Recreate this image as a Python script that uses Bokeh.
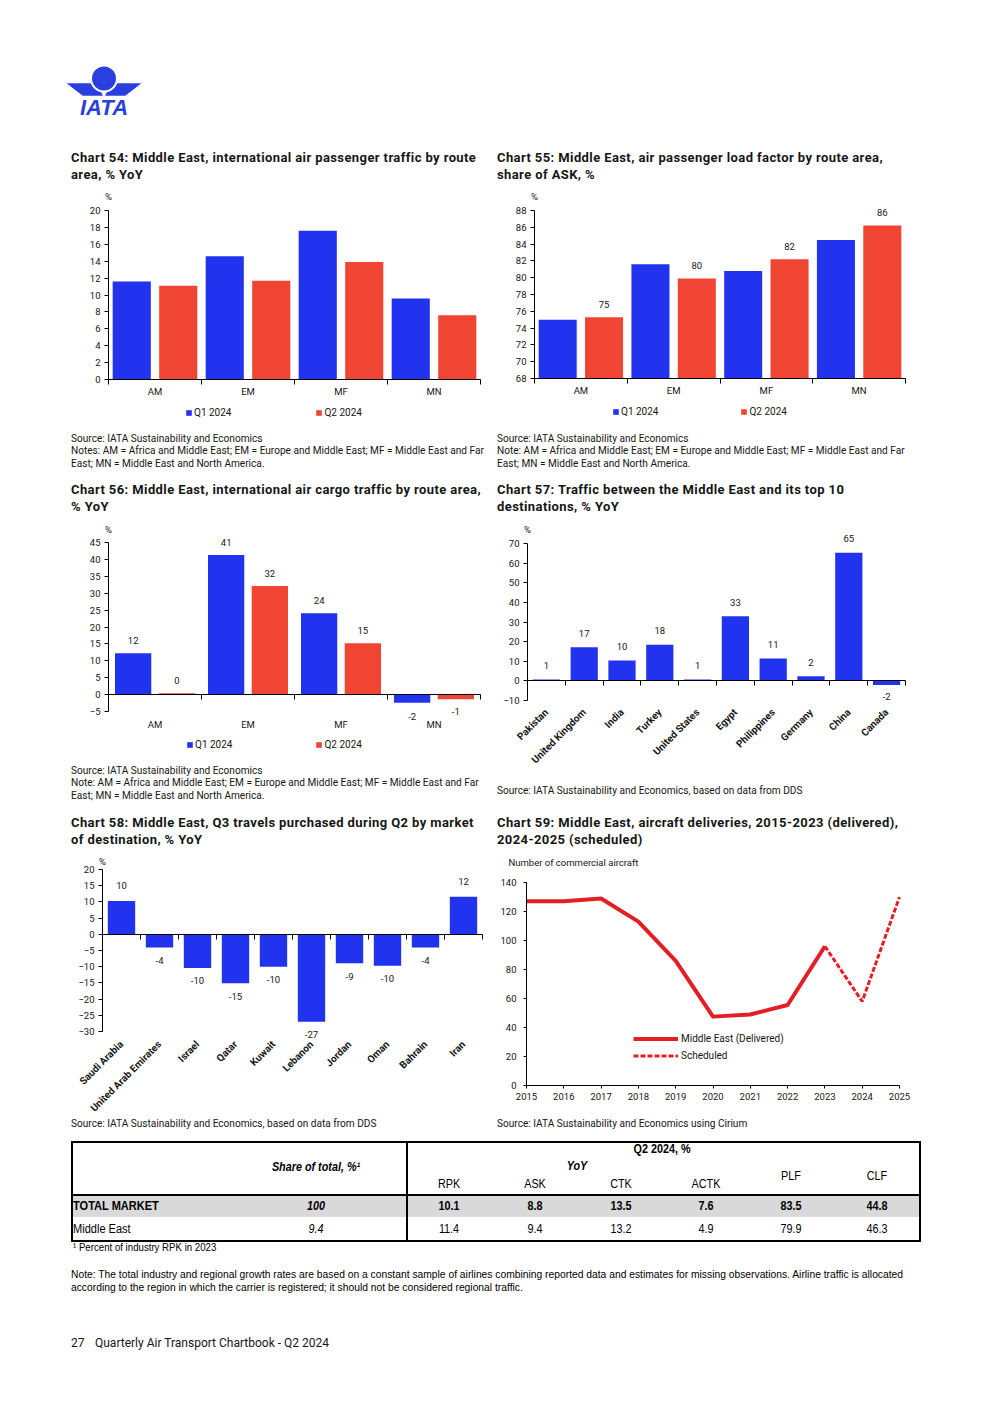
import numpy as np
from bokeh.plotting import figure
from bokeh.models import (ColumnDataSource, Range1d, FixedTicker, LinearAxis, Legend, LegendItem,
                          LabelSet, Label, Div, Spacer)
from bokeh.layouts import column, row
from bokeh.embed import file_html
from bokeh.resources import INLINE
from bokeh.core.properties import value

# ---------------- data ----------------
route_areas = ["AM", "EM", "MF", "MN"]
pax_q1 = [11.6, 14.6, 17.6, 9.6]
pax_q2 = [11.1, 11.7, 13.9, 7.6]
plf_q1 = [75.0, 81.6, 80.8, 84.5]
plf_q2 = [75.3, 79.9, 82.2, 86.2]
cargo_q1 = [12.2, 41.3, 24.1, -2.4]
cargo_q2 = [0.4, 32.1, 15.2, -1.4]
dest_names = ["Pakistan", "United Kingdom", "India", "Turkey", "United States", "Egypt",
              "Philippines", "Germany", "China", "Canada"]
dest_yoy = [0.7, 17.1, 10.4, 18.4, 0.7, 32.9, 11.4, 2.4, 65.3, -2.1]
market_names = ["Saudi Arabia", "United Arab Emirates", "Israel", "Qatar", "Kuwait", "Lebanon",
                "Jordan", "Oman", "Bahrain", "Iran"]
market_yoy = [10.3, -4.1, -10.4, -15.1, -10.0, -27.0, -8.9, -9.7, -4.1, 11.6]
deliv_years = [2015, 2016, 2017, 2018, 2019, 2020, 2021, 2022, 2023]
delivered = [127, 127, 129, 113, 86, 47.5, 49, 55.5, 96]
sched_years = [2023, 2024, 2025]
scheduled = [96, 58, 130]
period_labels = ["Q1 2024", "Q2 2024"]

table_cols = ["RPK", "ASK", "CTK", "ACTK", "PLF", "CLF"]
table_total = ["10.1", "8.8", "13.5", "7.6", "83.5", "44.8"]
table_me = ["11.4", "9.4", "13.2", "4.9", "79.9", "46.3"]
share_total = "100"
share_me = "9.4"

# ---------------- style ----------------
BLUE = "#2233F0"
RED = "#F04533"
LINE_RED = "#E31E24"
LOGO_BLUE = "#2A3FE0"
FONT = "Roboto"
TXT = "#161616"
TICK_SIZE = "9.5px"


def xr_from(v0, v1, p0, p1, f0, f1):
    """range so that value v0 sits at pixel p0 and v1 at p1 in a frame spanning f0..f1"""
    ppu = (p1 - p0) / (v1 - v0)
    return Range1d(v0 - (p0 - f0) / ppu, v1 + (f1 - p1) / ppu)


def yr_from(v0, v1, pb, pt, fb, ft):
    ppu = (pb - pt) / (v1 - v0)
    return Range1d(v0 - (fb - pb) / ppu, v1 + (pt - ft) / ppu)


def make_fig(w, h, xr, yr):
    p = figure(width=w, height=h, x_range=xr, y_range=yr, title=None,
               x_axis_type=None, y_axis_type=None, min_border=0,
               output_backend="svg", toolbar_location=None)
    p.outline_line_color = None
    return p


def add_yaxis(p, x_at, ticks, standoff=4, tick_out=4):
    ax = LinearAxis(fixed_location=x_at, bounds=(ticks[0], ticks[-1]), ticker=FixedTicker(ticks=ticks),
                    major_tick_out=tick_out, major_tick_in=0, minor_tick_out=0, minor_tick_in=0,
                    axis_line_color="black", major_tick_line_color="black",
                    major_label_text_font=FONT, major_label_text_font_size=TICK_SIZE,
                    major_label_text_color=TXT, major_label_standoff=standoff)
    p.add_layout(ax, "left")


def add_cat_axes(p, names, y_base, rotate=False, zero_axis=False, standoff=1, size=TICK_SIZE, bold=False):
    n = len(names)
    centers = list(range(n))
    bounds = [i - 0.5 for i in range(n + 1)]
    lab = LinearAxis(fixed_location=y_base, bounds=(-0.5, n - 0.5),
                     ticker=FixedTicker(ticks=centers, minor_ticks=bounds),
                     major_label_overrides={i: nm for i, nm in enumerate(names)},
                     major_tick_out=0, major_tick_in=0, minor_tick_in=0, minor_tick_out=5,
                     axis_line_color="black", minor_tick_line_color="black",
                     major_label_text_font=FONT, major_label_text_font_size=size,
                     major_label_text_color=TXT, major_label_standoff=standoff)
    if bold:
        lab.major_label_text_font_style = "bold"
    if rotate:
        lab.major_label_orientation = np.pi / 4
    if zero_axis:
        lab.axis_line_color = None
        lab.minor_tick_line_color = None
        z = LinearAxis(fixed_location=0, bounds=(-0.5, n - 0.5), ticker=FixedTicker(ticks=bounds),
                       major_tick_out=5, major_tick_in=0, minor_tick_out=0, minor_tick_in=0,
                       axis_line_color="black", major_tick_line_color="black",
                       major_label_text_font_size="0px", major_label_text_color=None)
        p.add_layout(z, "below")
    p.add_layout(lab, "below")


def value_labels(p, xs, vals, up, down, size="9.5px"):
    pos = [(x, v) for x, v in zip(xs, vals) if v >= 0]
    neg = [(x, v) for x, v in zip(xs, vals) if v < 0]
    for group, off in ((pos, up), (neg, -down)):
        if not group:
            continue
        src = ColumnDataSource(dict(x=[g[0] for g in group], y=[g[1] for g in group],
                                    t=[str(int(round(g[1]))) for g in group]))
        p.add_layout(LabelSet(x="x", y="y", text="t", source=src, y_offset=off,
                              text_align="center", text_baseline="middle",
                              text_font=value(FONT), text_font_size=size, text_color=TXT))


def top_label(p, x, y, off, text="%", align="center", xoff=0):
    p.add_layout(Label(x=x, y=y, text=text, x_offset=xoff, y_offset=off, text_align=align,
                       text_baseline="middle", text_font=FONT, text_font_size="9.5px",
                       text_color=TXT))


def bar_legend(p, r1, r2, x, y, spacing):
    lg = Legend(items=[LegendItem(label=period_labels[0], renderers=[r1]),
                       LegendItem(label=period_labels[1], renderers=[r2])],
                orientation="horizontal", location=(x, y), glyph_width=7, glyph_height=7,
                label_standoff=2, spacing=spacing, padding=0, margin=0,
                border_line_color=None, background_fill_alpha=0,
                label_text_font=FONT, label_text_font_size="10px", label_text_color=TXT,
                label_height=12)
    p.add_layout(lg)


def grouped(q1, q2, fx, fy, fw, fh, cat_px, ypx, y0, y1, ticks, off=0.25, bw=0.41, zero=False,
            standoff=1):
    n = len(route_areas)
    xr = xr_from(-0.5, n - 0.5, cat_px[0], cat_px[1], fx, fx + fw)
    yr = yr_from(y0, y1, ypx[0], ypx[1], fy + fh, fy)
    p = make_fig(fw, fh, xr, yr)
    base = y0 if not zero else 0
    xs1 = list(np.arange(n) - off)
    xs2 = list(np.arange(n) + off)
    r1 = p.vbar(x=xs1, top=q1, bottom=base, width=bw, fill_color=BLUE, line_color=None)
    r2 = p.vbar(x=xs2, top=q2, bottom=base, width=bw, fill_color=RED, line_color=None)
    add_yaxis(p, -0.5, ticks)
    add_cat_axes(p, route_areas, y0, zero_axis=zero, standoff=standoff)
    return p, r1, r2, xs1, xs2


# ---------------- chart 54 ----------------
p54, r1, r2, _, _ = grouped(pax_q1, pax_q2, 66, 188, 426, 242, (108, 480), (379, 210),
                            0, 20, list(range(0, 21, 2)))
bar_legend(p54, r1, r2, 119, 12, 84)
top_label(p54, -0.5, 20, 14)

# ---------------- chart 55 ----------------
p55, r1, r2, xs1, xs2 = grouped(plf_q1, plf_q2, 492, 188, 426, 242, (534, 905), (378, 210),
                                68, 88, list(range(68, 89, 2)))
bar_legend(p55, r1, r2, 120, 13, 82)
value_labels(p55, xs2, plf_q2, 13, 13)
top_label(p55, -0.5, 88, 14)

# ---------------- chart 56 ----------------
p56, r1, r2, xs1, xs2 = grouped(cargo_q1, cargo_q2, 66, 522, 426, 240, (108, 480), (711, 542),
                                -5, 45, list(range(-5, 46, 5)), off=0.235, bw=0.39, zero=True,
                                standoff=2)
bar_legend(p56, r1, r2, 120, 12, 83)
value_labels(p56, xs1, cargo_q1, 13, 14)
value_labels(p56, xs2, cargo_q2, 13, 12)
top_label(p56, -0.5, 45, 13)

# ---------------- chart 57 ----------------
n57 = len(dest_names)
p57 = make_fig(426, 260, xr_from(-0.5, n57 - 0.5, 527, 905, 492, 918),
               yr_from(-10, 70, 700, 543, 782, 522))
p57.vbar(x=list(range(n57)), top=dest_yoy, bottom=0, width=0.72, fill_color=BLUE, line_color=None)
add_yaxis(p57, -0.5, list(range(-10, 71, 10)))
add_cat_axes(p57, dest_names, -10, rotate=True, zero_axis=True, standoff=5, size="10px", bold=True)
value_labels(p57, list(range(n57)), dest_yoy, 14, 12)
top_label(p57, -0.5, 70, 14)

# ---------------- chart 58 ----------------
n58 = len(market_names)
p58 = make_fig(426, 261, xr_from(-0.5, n58 - 0.5, 102, 482, 66, 492),
               yr_from(-30, 20, 1031, 869, 1115, 854))
p58.vbar(x=list(range(n58)), top=market_yoy, bottom=0, width=0.72, fill_color=BLUE, line_color=None)
add_yaxis(p58, -0.5, list(range(-30, 21, 5)))
add_cat_axes(p58, market_names, -30, rotate=True, zero_axis=True, standoff=6, size="10px", bold=True)
value_labels(p58, list(range(n58)), market_yoy, 15, 13)
top_label(p58, -0.5, 20, 8)

# ---------------- chart 59 ----------------
p59 = make_fig(426, 261, xr_from(2015, 2025, 526, 899, 492, 918), yr_from(0, 140, 1085, 882, 1115, 854))
r_del = p59.line(deliv_years, delivered, line_width=4, line_color=LINE_RED, line_join="round")
r_sch = p59.line(sched_years, scheduled, line_width=3, line_color=LINE_RED, line_dash="5 2")
add_yaxis(p59, 2015, list(range(0, 141, 20)), standoff=7, tick_out=3)
xa = LinearAxis(fixed_location=0, bounds=(2015, 2025), ticker=FixedTicker(ticks=list(range(2015, 2026))),
                major_tick_out=3, major_tick_in=0, minor_tick_out=0, minor_tick_in=0,
                axis_line_color="black", major_tick_line_color="black",
                major_label_text_font=FONT, major_label_text_font_size=TICK_SIZE,
                major_label_text_color=TXT, major_label_standoff=4)
p59.add_layout(xa, "below")
lg59 = Legend(items=[LegendItem(label="Middle East (Delivered)", renderers=[r_del]),
                     LegendItem(label="Scheduled", renderers=[r_sch])],
              orientation="vertical", location=(141, 51.5), glyph_width=45, glyph_height=17,
              label_height=17, label_standoff=3, spacing=0, padding=0, margin=0,
              border_line_color=None, background_fill_alpha=0,
              label_text_font=FONT, label_text_font_size="10px", label_text_color=TXT)
p59.add_layout(lg59)
top_label(p59, 2015, 140, 20, text="Number of commercial aircraft", align="left", xoff=-18)

# ---------------- logo ----------------
logo = figure(width=100, height=75, x_range=Range1d(55, 155), y_range=Range1d(130, 55),
              x_axis_type=None, y_axis_type=None, min_border=0, toolbar_location=None,
              output_backend="svg", title=None)
logo.outline_line_color = None
logo.patches([[64, 97, 103.5, 82], [143, 110, 103.5, 125]],
             [[82, 82, 96, 96], [82, 82, 96, 96]],
             fill_color=LOGO_BLUE, line_color="white", line_width=1.5)
logo.circle(x=[103.5], y=[78], radius=13, fill_color=LOGO_BLUE, line_color="white", line_width=2)
logo.text(x=[103.5], y=[106.5], text=["IATA"], text_font=value("Liberation Sans"),
          text_font_style="bold italic", text_font_size="22px", text_align="center",
          text_baseline="middle", text_color=LOGO_BLUE)


# ---------------- text helpers ----------------
def text_div(html, w, h, size, bold=False, lh=17.0, pt=0.0, pl=5, ls=0.0):
    style = (f"font-family:{FONT},sans-serif;font-size:{size}px;line-height:{lh}px;"
             f"padding-top:{pt}px;padding-left:{pl}px;white-space:nowrap;color:{TXT};"
             f"letter-spacing:{ls}px;font-weight:{'bold' if bold else 'normal'};")
    return Div(text=f'<div style="{style}">{html}</div>', width=w, height=h, margin=0)


def title_div(html, pt):
    return text_div(html, 426, 42, 13, bold=True, lh=17, pt=pt, ls=0.4)


def note_div(html, h):
    return text_div(html, 426, h, 10.1, lh=12.5, pt=2.75)


src_basic = "Source: IATA Sustainability and Economics"
abbr2 = "East; MN = Middle East and North America."
abbr1 = "AM = Africa and Middle East; EM = Europe and Middle East; MF = Middle East and Far"

t54 = title_div("Chart 54: Middle East, international air passenger traffic by route<br>area, % YoY", 2.5)
t55 = title_div("Chart 55: Middle East, air passenger load factor by route area,<br>share of ASK, %", 2.5)
t56 = title_div("Chart 56: Middle East, international air cargo traffic by route area,<br>% YoY", 0.5)
t57 = title_div("Chart 57: Traffic between the Middle East and its top 10<br>destinations, % YoY", 0.5)
t58 = title_div("Chart 58: Middle East, Q3 travels purchased during Q2 by market<br>of destination, % YoY", 1.5)
t59 = title_div("Chart 59: Middle East, aircraft deliveries, 2015-2023 (delivered),<br>2024-2025 (scheduled)", 1.5)

n54 = note_div(f"{src_basic}<br>Notes: {abbr1}<br>{abbr2}", 50)
n55 = note_div(f"{src_basic}<br>Note: {abbr1}<br>{abbr2}", 50)
n56 = note_div(f"{src_basic}<br>Note: {abbr1}<br>{abbr2}", 50)
n57 = note_div(f"{src_basic}, based on data from DDS", 30)
n58 = note_div(f"{src_basic}, based on data from DDS", 18)
n59 = note_div("Source: IATA Sustainability and Economics using Cirium", 18)

# ---------------- bottom block: table + notes + footer ----------------
Y0 = 1133
NARROW = "font-family:'Liberation Sans',Arial,sans-serif;"


def cell(cx, cy, txt, extra="", size=12, sx=0.9):
    return (f'<div style="position:absolute;left:{cx - 8 - 60}px;top:{cy - Y0 - 7}px;width:120px;'
            f'line-height:14px;text-align:center;white-space:nowrap;{NARROW}font-size:{size}px;'
            f'color:#000;transform:scaleX({sx});transform-origin:center;{extra}">{txt}</div>')


def lcell(x, cy, txt, extra="", size=12, sx=0.92, lh=14):
    return (f'<div style="position:absolute;left:{x - 8}px;top:{cy - Y0 - lh / 2}px;'
            f'line-height:{lh}px;white-space:nowrap;{NARROW}font-size:{size}px;color:#000;'
            f'transform:scaleX({sx});transform-origin:left;{extra}">{txt}</div>')


def box(left, top, w, h, style):
    return (f'<div style="position:absolute;left:{left - 8}px;top:{top - Y0}px;width:{w}px;'
            f'height:{h}px;box-sizing:border-box;{style}"></div>')


col_cx = [449, 535, 621, 706, 791, 877]
parts = []
parts.append(box(71, 1196, 850, 21, "background:#d9d9d9;"))
parts.append(box(71, 1141, 850, 101, "border:2px solid #000;"))
parts.append(box(71, 1194, 850, 2, "background:#000;"))
parts.append(box(406, 1141, 2, 101, "background:#000;"))
B = "font-weight:bold;"
BI = "font-weight:bold;font-style:italic;"
I = "font-style:italic;"
parts.append(cell(662, 1149, "Q2 2024, %", B))
parts.append(cell(316, 1167, "Share of total, %&#185;", BI))
parts.append(cell(577, 1166, "YoY", BI))
for i, c in enumerate(table_cols):
    cy = 1184 if i < 4 else 1176
    parts.append(cell(col_cx[i], cy, c))
parts.append(lcell(73, 1206, "TOTAL MARKET", B))
parts.append(cell(316, 1206, share_total, BI))
for i, v in enumerate(table_total):
    parts.append(cell(col_cx[i], 1206, v, B))
parts.append(lcell(73, 1229, "Middle East"))
parts.append(cell(316, 1229, share_me, I))
for i, v in enumerate(table_me):
    parts.append(cell(col_cx[i], 1229, v))
parts.append(lcell(73, 1247, "&#185; Percent of industry RPK in 2023", size=10.5, sx=0.92, lh=12))
parts.append(lcell(71, 1274, "Note: The total industry and regional growth rates are based on a constant sample of "
                   "airlines combining reported data and estimates for missing observations. Airline traffic "
                   "is allocated", size=11.2, sx=0.92, lh=13))
parts.append(lcell(71, 1287, "according to the region in which the carrier is registered; it should not be "
                   "considered regional traffic.", size=11.2, sx=0.92, lh=13))
parts.append(f'<div style="position:absolute;left:{71 - 8}px;top:{1343 - Y0 - 8}px;line-height:16px;'
             f'font-family:{FONT},sans-serif;font-size:12px;color:{TXT};white-space:nowrap;">27</div>')
parts.append(f'<div style="position:absolute;left:{95 - 8}px;top:{1343 - Y0 - 8}px;line-height:16px;'
             f'font-family:{FONT},sans-serif;font-size:12px;color:{TXT};white-space:nowrap;">'
             f'Quarterly Air Transport Chartbook - Q2 2024</div>')
bottom = Div(text=f'<div style="position:relative;width:976px;height:257px;">{"".join(parts)}</div>',
             width=976, height=257, margin=0)


# ---------------- layout ----------------
def sp(w=1, h=1):
    return Spacer(width=w, height=h, margin=0)


header = column(sp(1, 47), row(sp(47, 75), logo), sp(1, 16))
row1 = row(sp(58, 1), column(t54, p54, n54), column(t55, p55, n55))
row2 = row(sp(58, 1), column(t56, p56, n56), column(t57, p57, n57))
row3 = row(sp(58, 1), column(t58, p58, n58), column(t59, p59, n59))
body = column(header, row1, row2, row3, bottom)
page = row(sp(8, 1), column(sp(1, 8), body))

open("out.html", "w").write(file_html(page, INLINE))
